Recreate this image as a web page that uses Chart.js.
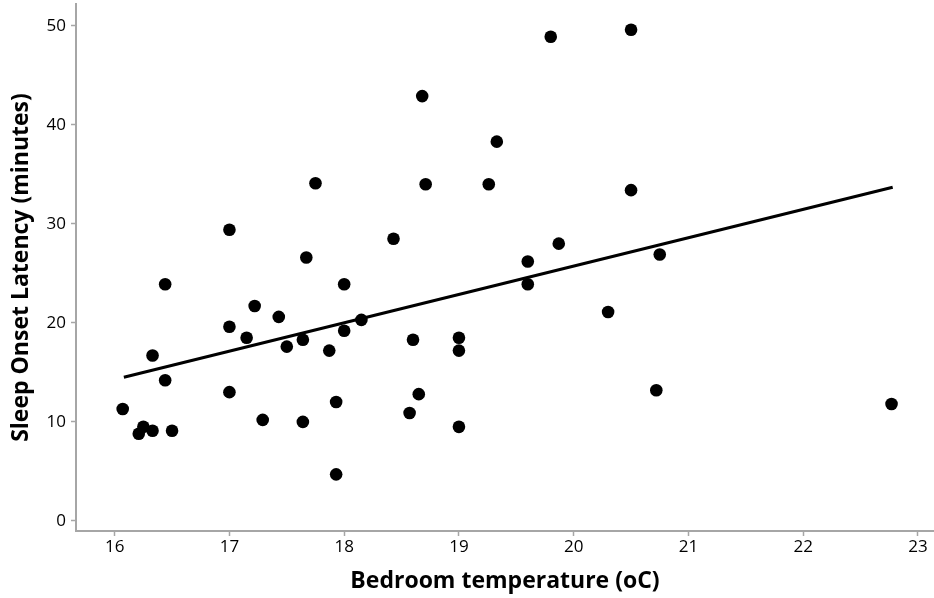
<!DOCTYPE html>
<html>
<head>
<meta charset="utf-8">
<script src="https://cdn.jsdelivr.net/npm/chart.js@4/dist/chart.umd.min.js"></script>
<style>
  html, body { margin: 0; padding: 0; background: #ffffff; }
  #wrap { width: 934px; height: 598px; position: relative; }
</style>
</head>
<body>
<div id="wrap"><canvas id="c" width="934" height="598"></canvas></div>
<script>
// Bedroom temperature (°C) for each participant
const temperature = [
  17.75, 17.0, 17.67, 16.44, 18.0, 17.22, 17.43, 17.0, 18.15, 18.0,
  17.15, 17.64, 17.5, 17.87, 16.33, 16.44, 17.0, 17.93, 16.07, 17.29,
  17.64, 16.25, 16.33, 16.21, 16.5, 17.93, 19.8, 20.5, 18.68, 19.33,
  18.71, 19.26, 20.5, 18.43, 19.87, 19.6, 19.6, 20.3, 18.6, 19.0,
  19.0, 18.65, 18.57, 19.0, 20.75, 20.72, 22.77
];
// Sleep onset latency (minutes) for each participant
const latency = [
  34.1, 29.4, 26.6, 23.9, 23.9, 21.7, 20.6, 19.6, 20.3, 19.2,
  18.5, 18.3, 17.6, 17.2, 16.7, 14.2, 13.0, 12.0, 11.3, 10.2,
  10.0, 9.5, 9.1, 8.8, 9.1, 4.7, 48.9, 49.6, 42.9, 38.3,
  34.0, 34.0, 33.4, 28.5, 28.0, 26.2, 23.9, 21.1, 18.3, 18.5,
  17.2, 12.8, 10.9, 9.5, 26.9, 13.2, 11.8
];
// Fitted line end points
const fitX = [16.08, 22.78];
const fitY = [14.5, 33.7];
// Tick labels
const xTicks = [16, 17, 18, 19, 20, 21, 22, 23];
const yTicks = [0, 10, 20, 30, 40, 50];

const points = temperature.map((t, i) => ({ x: t, y: latency[i] }));
const fitLine = fitX.map((t, i) => ({ x: t, y: fitY[i] }));

const axisGray = '#a6a6a6';
const FONT = '"Open Sans", "Noto Sans", sans-serif';

new Chart(document.getElementById('c'), {
  type: 'scatter',
  data: {
    datasets: [
      {
        label: 'Participants',
        data: points,
        backgroundColor: '#000000',
        borderColor: '#000000',
        borderWidth: 0,
        pointRadius: 6.3,
        pointHoverRadius: 6.3
      },
      {
        type: 'line',
        label: 'Fit',
        data: fitLine,
        borderColor: '#000000',
        borderWidth: 3,
        pointRadius: 0,
        fill: false,
        tension: 0
      }
    ]
  },
  options: {
    responsive: false,
    animation: false,
    devicePixelRatio: 1,
    layout: { autoPadding: false, padding: { left: 0, right: 0, top: 4, bottom: 0 } },
    plugins: {
      legend: { display: false },
      tooltip: { enabled: false },
      title: { display: false }
    },
    scales: {
      x: {
        type: 'linear',
        min: 15.663,
        max: 23.14,
        afterBuildTicks: (s) => { s.ticks = xTicks.map(v => ({ value: v })); },
        afterFit: (s) => { s.height = 67; s.paddingLeft = 0; s.paddingRight = 0; },
        border: { display: true, color: axisGray, width: 2 },
        grid: { drawOnChartArea: false, drawTicks: true, tickLength: 5, tickWidth: 1.5, tickColor: axisGray },
        ticks: {
          color: '#000000',
          font: { family: FONT, size: 17 },
          padding: 1,
          maxRotation: 0,
          autoSkip: false
        },
        title: {
          display: true,
          text: 'Bedroom temperature (oC)',
          color: '#000000',
          font: { family: FONT, size: 23, weight: 'bold' },
          padding: { top: 0, bottom: 3 }
        }
      },
      y: {
        type: 'linear',
        min: -1.02,
        max: 52.2,
        afterBuildTicks: (s) => { s.ticks = yTicks.map(v => ({ value: v })); },
        afterFit: (s) => { s.width = 76; s.paddingTop = 0; s.paddingBottom = 0; },
        border: { display: true, color: axisGray, width: 2 },
        grid: { drawOnChartArea: false, drawTicks: true, tickLength: 5, tickWidth: 1.5, tickColor: axisGray },
        ticks: {
          color: '#000000',
          font: { family: FONT, size: 17 },
          padding: 5
        },
        title: {
          display: true,
          text: 'Sleep Onset Latency (minutes)',
          color: '#000000',
          font: { family: FONT, size: 23, weight: 'bold' },
          padding: { top: 8, bottom: 0 }
        }
      }
    }
  }
});
</script>
</body>
</html>
